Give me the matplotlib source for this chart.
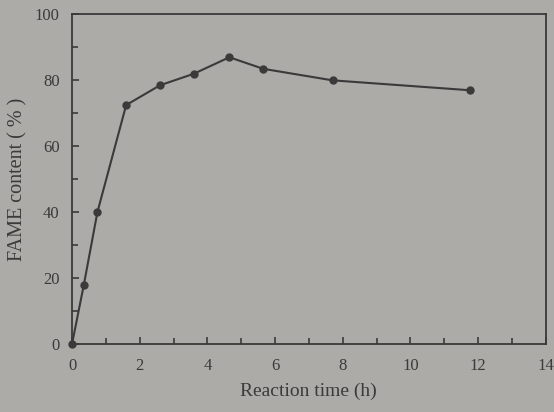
import matplotlib
matplotlib.use("Agg")
import matplotlib.pyplot as plt
from matplotlib.ticker import MultipleLocator

time_h = [0, 0.35, 0.75, 1.6, 2.6, 3.6, 4.65, 5.65, 7.7, 11.75]
fame = [0, 18, 40, 72.5, 78.5, 82, 87, 83.5, 80, 77]

bg = "#adaba7"
ink = "#3a3a3a"
plt.rcParams['font.family'] = ['Liberation Serif', 'DejaVu Serif']

fig = plt.figure(figsize=(5.54, 4.12), dpi=100, facecolor=bg)
ax = fig.add_axes([0.13, 0.165, 0.855, 0.8], facecolor=bg)
ax.plot(time_h, fame, color=ink, lw=1.5, marker='o', ms=5, mfc=ink, mec=ink, clip_on=False, zorder=3)
ax.set_xlim(0, 14)
ax.set_ylim(0, 100)
ax.xaxis.set_major_locator(MultipleLocator(2))
ax.xaxis.set_minor_locator(MultipleLocator(1))
ax.yaxis.set_major_locator(MultipleLocator(20))
ax.yaxis.set_minor_locator(MultipleLocator(10))
ax.tick_params(which='both', direction='in', colors=ink, labelcolor=ink, labelsize=12, width=1.2)
ax.tick_params(which='major', length=5)
ax.tick_params(which='minor', length=4)
ax.tick_params(axis='x', which='major', pad=10)
ax.tick_params(axis='y', which='major', pad=9)
for s in ax.spines.values():
    s.set_color(ink)
    s.set_linewidth(1.3)
ax.set_xlabel("Reaction time (h)", fontsize=14, color=ink, labelpad=6)
ax.set_ylabel("FAME content ( % )", fontsize=14.5, color=ink, labelpad=5)
fig.savefig("out.png", dpi=100, facecolor=bg)
